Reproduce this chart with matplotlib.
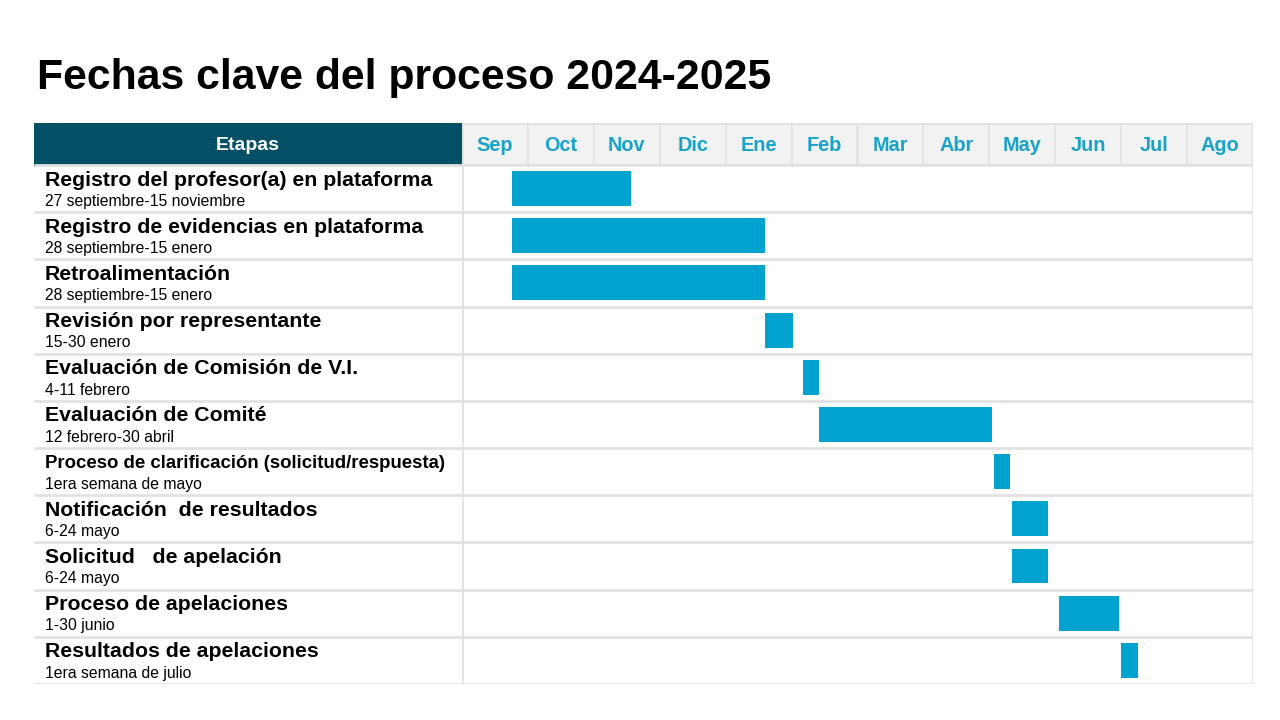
import matplotlib.pyplot as plt
from matplotlib.patches import Rectangle

plt.rcParams['font.family'] = ['Liberation Sans', 'DejaVu Sans']

# data (month units, 0 = start of Sep)
months = ["Sep", "Oct", "Nov", "Dic", "Ene", "Feb", "Mar", "Abr", "May", "Jun", "Jul", "Ago"]
stages = [
    "Registro del profesor(a) en plataforma",
    "Registro de evidencias en plataforma",
    "Retroalimentación",
    "Revisión por representante",
    "Evaluación de Comisión de V.I.",
    "Evaluación de Comité",
    "Proceso de clarificación (solicitud/respuesta)",
    "Notificación  de resultados",
    "Solicitud   de apelación",
    "Proceso de apelaciones",
    "Resultados de apelaciones",
]
dates = [
    "27 septiembre-15 noviembre",
    "28 septiembre-15 enero",
    "28 septiembre-15 enero",
    "15-30 enero",
    "4-11 febrero",
    "12 febrero-30 abril",
    "1era semana de mayo",
    "6-24 mayo",
    "6-24 mayo",
    "1-30 junio",
    "1era semana de julio",
]
start = [0.76, 0.76, 0.76, 4.60, 5.17, 5.42, 8.07, 8.35, 8.35, 9.06, 10.00]
end = [2.56, 4.60, 4.60, 5.02, 5.42, 8.04, 8.32, 8.89, 8.89, 9.97, 10.26]

bar_color = "#00a3ce"
head_dark = "#024f66"
month_col = "#18a3c9"
line_col = "#e2e2e2"

W, H = 1280, 720
fig = plt.figure(figsize=(12.8, 7.2), dpi=100)

top_px, bot_px = 123, 684
head_h = 42 / 47.2  # header height in row units
n = len(stages)

def pos(x0, x1):
    return [x0 / W, 1 - bot_px / H, (x1 - x0) / W, (bot_px - top_px) / H]

axl = fig.add_axes(pos(34, 462))
axg = fig.add_axes(pos(462, 1253), sharey=axl)
for ax in (axl, axg):
    ax.set_ylim(n, -head_h)
    ax.axis("off")
axl.set_xlim(0, 1)
axg.set_xlim(0, len(months))

# header
axl.add_patch(Rectangle((0, -head_h), 1, head_h, color=head_dark, zorder=1))
axl.text(0.5, -head_h / 2 + 0.04, "Etapas", color="white", fontsize=14, fontweight="bold",
         ha="center", va="center")
for i, m in enumerate(months):
    axg.add_patch(Rectangle((i, -head_h), 1, head_h, facecolor="#f2f2f2",
                            edgecolor=line_col, lw=1.2, zorder=1))
    axg.text(i + 0.5, -head_h / 2 + 0.03, m, color=month_col, fontsize=14.3,
             fontweight="bold", ha="center", va="center")

# row separators
for ax, x0, x1 in ((axl, 0, 1), (axg, 0, len(months))):
    for r in range(n + 1):
        ax.plot([x0, x1], [r, r], color=line_col, lw=2, zorder=2, solid_capstyle="butt")
axg.plot([0, 0], [-head_h, n], color=line_col, lw=2, zorder=3)
axg.plot([len(months), len(months)], [-head_h, n], color=line_col, lw=2, zorder=3)
axg.plot([0, len(months)], [-head_h, -head_h], color=line_col, lw=2, zorder=3)

# labels; the long one is squeezed to fit its cell as in the original
fig.canvas.draw()
rend = fig.canvas.get_renderer()
max_w = (449 - 45) / W * fig.bbox.width
for r, (s, d) in enumerate(zip(stages, dates)):
    t = axl.text(11 / 428, r + 0.32, s, fontsize=15.3, fontweight="bold",
                 va="center", ha="left")
    w = t.get_window_extent(rend).width
    if w > max_w:
        t.set_fontsize(15.3 * max_w / w)
    axl.text(11 / 428, r + 0.77, d, fontsize=11.3, va="center", ha="left")

# bars (each row spans r..r+1)
rows = [r + 0.5 for r in range(n)]
axg.barh(rows, [e - s for s, e in zip(start, end)], left=start, height=0.74,
         color=bar_color, zorder=4)

fig.text(37 / W, 1 - 78 / H, "Fechas clave del proceso 2024-2025", fontsize=30.8,
         fontweight="bold", va="center", ha="left")

fig.savefig("out.png", dpi=100)
